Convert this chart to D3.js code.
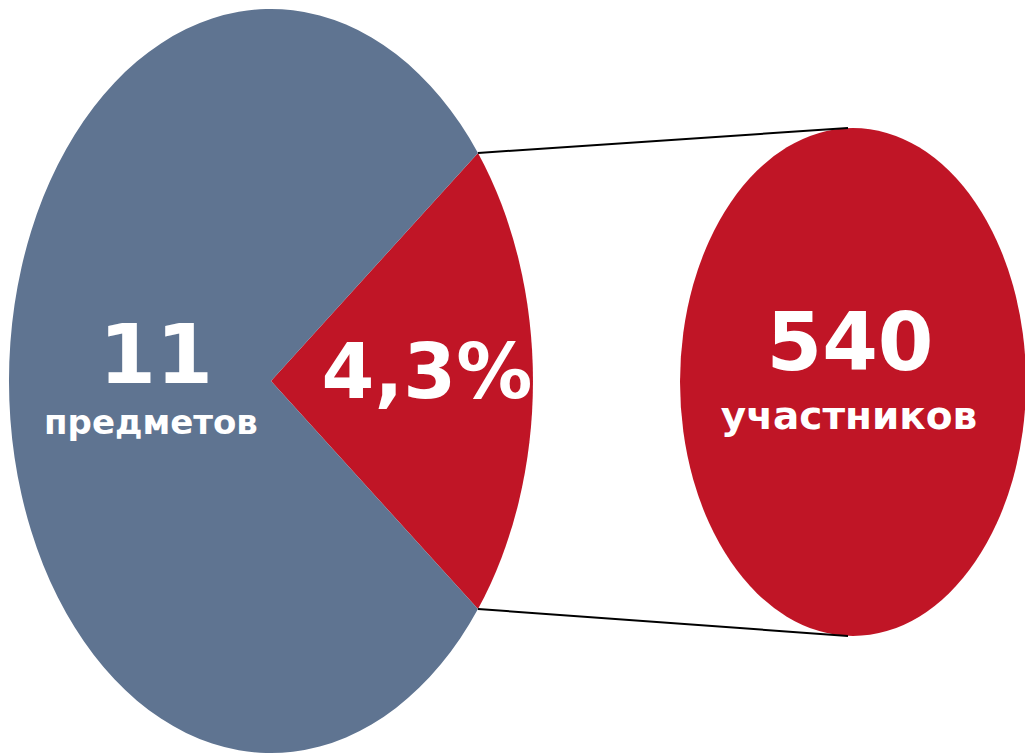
<!DOCTYPE html>
<html>
<head>
<meta charset="utf-8">
<script src="https://cdn.jsdelivr.net/npm/d3@7"></script>
<style>
  html, body { margin: 0; padding: 0; background: #fff; }
  svg { display: block; }
</style>
</head>
<body>
<svg id="chart" width="1025" height="754"></svg>
<script>
// slice shares as drawn (red slice first, then the rest)
const slice_names = ["selected", "other"];
const slice_shares = [21, 79];
const slice_colors = ["#c01526", "#5f7491"];

// labels
const main_value = "11";
const main_caption = "предметов";
const share_label = "4,3%";
const detail_value = "540";
const detail_caption = "участников";

const svg = d3.select("#chart");
const font = "'DejaVu Sans', Verdana, sans-serif";

// big pie (elliptical)
const pie_cx = 271, pie_cy = 381, pie_rx = 262, pie_ry = 372;
const start_angle = 52.2 * Math.PI / 180;

const pie = d3.pie().sort(null).value(d => d)
    .startAngle(start_angle).endAngle(start_angle + 2 * Math.PI);
const arcs = pie(slice_shares);
const arc = d3.arc().innerRadius(0).outerRadius(1);

const pie_group = svg.append("g")
    .attr("transform", `translate(${pie_cx},${pie_cy}) scale(${pie_rx},${pie_ry})`);

pie_group.selectAll("path")
    .data(arcs)
    .join("path")
    .attr("id", (d, i) => "slice_" + slice_names[i])
    .attr("d", arc)
    .attr("fill", (d, i) => slice_colors[i]);

// detail ellipse
const det_cx = 853, det_cy = 382, det_rx = 173, det_ry = 254;
svg.append("ellipse")
    .attr("cx", det_cx).attr("cy", det_cy)
    .attr("rx", det_rx).attr("ry", det_ry)
    .attr("fill", slice_colors[0]);

// connector lines from the slice edges to the detail ellipse
const red = arcs[0];
const edge_pt = a => [pie_cx + pie_rx * Math.sin(a), pie_cy - pie_ry * Math.cos(a)];
const p_top = edge_pt(red.startAngle);
const p_bot = edge_pt(red.endAngle);

svg.append("line")
    .attr("x1", p_top[0]).attr("y1", p_top[1])
    .attr("x2", det_cx - 5).attr("y2", det_cy - det_ry)
    .attr("stroke", "black").attr("stroke-width", 2);
svg.append("line")
    .attr("x1", p_bot[0]).attr("y1", p_bot[1])
    .attr("x2", det_cx - 5).attr("y2", det_cy + det_ry)
    .attr("stroke", "black").attr("stroke-width", 2);

// texts
function add_text(x, y, size, txt) {
    svg.append("text")
        .attr("x", x).attr("y", y)
        .attr("text-anchor", "middle")
        .attr("font-family", font)
        .attr("font-weight", "bold")
        .attr("font-size", size)
        .attr("fill", "white")
        .text(txt);
}

add_text(156, 383, 82, main_value);
add_text(151, 434, 34, main_caption);
add_text(427, 398, 76, share_label);
add_text(850, 370, 80, detail_value);
add_text(849, 429, 39, detail_caption);
</script>
</body>
</html>
